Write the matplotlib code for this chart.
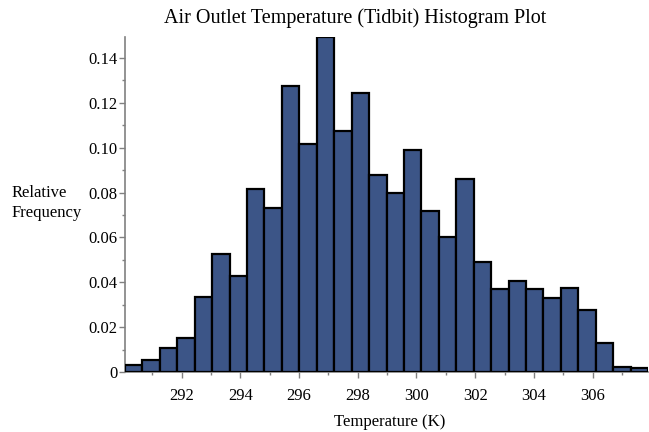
import numpy as np
import matplotlib
matplotlib.use("Agg")
import matplotlib.pyplot as plt
from matplotlib.ticker import MultipleLocator, FuncFormatter

# histogram bins (K) and relative frequencies
bin_start = 290.07
bin_width = 0.594
rel_freq = [0.0031, 0.0052, 0.0106, 0.0153, 0.0335, 0.0526, 0.0428, 0.0815,
            0.0730, 0.1275, 0.1016, 0.1495, 0.1074, 0.1244, 0.0880, 0.0797,
            0.0991, 0.0718, 0.0600, 0.0859, 0.0491, 0.0372, 0.0407, 0.0368,
            0.0329, 0.0375, 0.0277, 0.0131, 0.0022, 0.0017]

edges = bin_start + bin_width * np.arange(len(rel_freq) + 1)

plt.rcParams["font.family"] = ["Liberation Serif", "DejaVu Serif"]

fig = plt.figure(figsize=(6.49, 4.32), dpi=100)
ax = fig.add_axes([0.1926, 0.1389, 0.8059, 0.7761])

ax.bar(edges[:-1], rel_freq, width=bin_width, align="edge",
       color="#3c5587", edgecolor="black", linewidth=1.6, zorder=3)

ax.set_xlim(edges[0], edges[-1])
ax.set_ylim(0, max(rel_freq))

ax.xaxis.set_major_locator(MultipleLocator(2))
ax.xaxis.set_minor_locator(MultipleLocator(1))
ax.yaxis.set_major_locator(MultipleLocator(0.02))
ax.yaxis.set_minor_locator(MultipleLocator(0.01))
ax.yaxis.set_major_formatter(FuncFormatter(lambda v, p: "0" if v == 0 else f"{v:.2f}"))

for side in ("top", "right"):
    ax.spines[side].set_visible(False)
for side in ("left", "bottom"):
    ax.spines[side].set_color("#808080")
    ax.spines[side].set_linewidth(1.2)

ax.tick_params(which="major", length=4, width=1, color="#808080", labelsize=12)
ax.tick_params(axis="x", which="major", pad=7.5)
ax.tick_params(axis="y", which="major", pad=1.5)
ax.tick_params(which="minor", length=2.5, width=1, color="#808080")

fig.text(0.547, 1 - 18 / 432, "Air Outlet Temperature (Tidbit) Histogram Plot",
         fontsize=14.5, ha="center", va="center")
ax.set_xlabel("Temperature (K)", fontsize=12, va="center")
ax.xaxis.set_label_coords(0.506, -0.15)
fig.text(0.018, 0.53, "Relative\nFrequency", fontsize=12, ha="left", va="center",
         linespacing=1.4)

fig.savefig("out.png", dpi=100)
